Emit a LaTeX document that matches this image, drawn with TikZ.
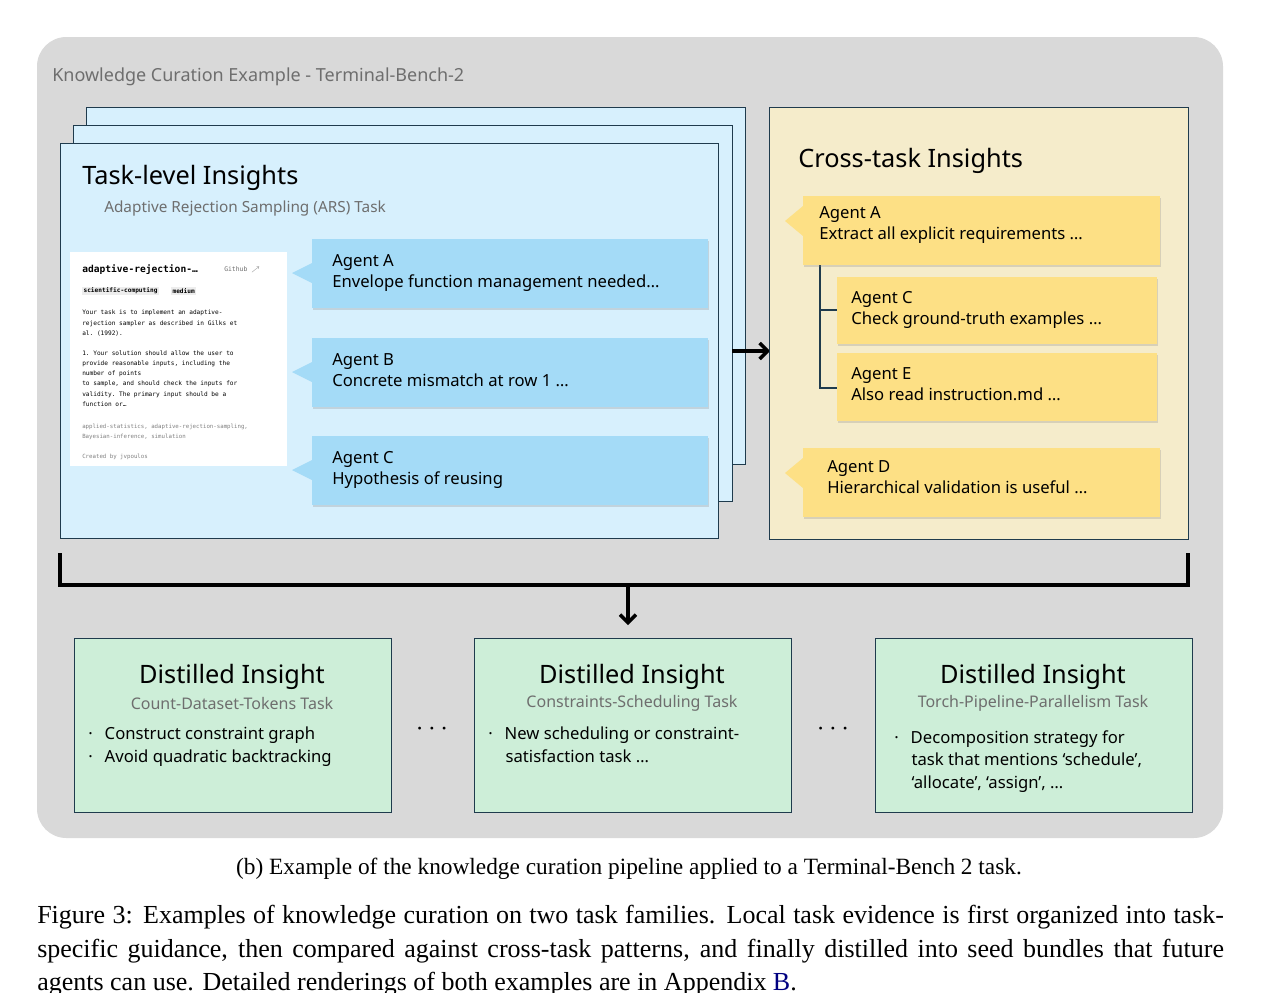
\documentclass[tikz,border=0pt]{standalone}
\usepackage{fontspec}
\setmainfont{Liberation Serif}
\setsansfont{Noto Sans}
\setmonofont{DejaVu Sans Mono}
\usetikzlibrary{arrows.meta,shadows}
\definecolor{bgg}{HTML}{D9D9D9}
\definecolor{lblue}{HTML}{D7F0FD}
\definecolor{ablue}{HTML}{A4DBF7}
\definecolor{lyel}{HTML}{F5ECCB}
\definecolor{ayel}{HTML}{FDE085}
\definecolor{lgrn}{HTML}{CDEED8}
\definecolor{edge}{HTML}{1F3B4D}
\definecolor{sub}{HTML}{6E6E6E}
\begin{document}
\begin{tikzpicture}[x=0.75pt,y=-0.75pt,
  panel/.style={draw=edge,line width=0.6pt},
  agentb/.style={fill=ablue,drop shadow={opacity=0.25,shadow xshift=1pt,shadow yshift=-1.5pt}},
  agenty/.style={fill=ayel,drop shadow={opacity=0.25,shadow xshift=1pt,shadow yshift=-1.5pt}},
  atxt/.style={anchor=north west,align=left,font=\sffamily\fontsize{12.5}{16}\selectfont,inner sep=0pt},
  dtitle/.style={font=\sffamily\bfseries\fontsize{19}{21}\selectfont,inner sep=0pt},
  dsub/.style={font=\sffamily\bfseries\fontsize{12}{14}\selectfont,text=sub,inner sep=0pt},
  bul/.style={anchor=north west,align=left,font=\sffamily\fontsize{12.5}{17}\selectfont,inner sep=0pt},
  brk/.style={line width=2.6pt},
  mono/.style={anchor=north west,align=left,inner sep=0pt,font=\ttfamily\fontsize{4.6}{7.6}\selectfont}]
\useasboundingbox (0,0) rectangle (1261,993);
% background
\fill[bgg,rounded corners=22pt] (37,37) rectangle (1223,838);
\node[anchor=west,inner sep=0pt,text=sub,font=\sffamily\fontsize{13.5}{15}\selectfont] (ttl) at (52,77) {Knowledge Curation Example - Terminal-Bench-2};
% blue stack
\draw[panel,fill=lblue] (86,107) rectangle (745,464);
\draw[panel,fill=lblue] (73,125) rectangle (732,501);
\draw[panel,fill=lblue] (60,143) rectangle (718,538);
\node (tlt) [anchor=west,inner sep=0pt,font=\sffamily\bfseries\fontsize{19}{21}\selectfont] at (82,178) {Task-level Insights};
\node (tls) [anchor=west,dsub,font=\sffamily\bfseries\fontsize{11.5}{13}\selectfont] at (104,209) {Adaptive Rejection Sampling (ARS) Task};
% card
\fill[white] (70,252) rectangle (287,466);
\node (c1) [anchor=west,inner sep=0pt,font=\ttfamily\bfseries\fontsize{7.2}{8}\selectfont] at (82,270) {adaptive-rejection-\dots};
\node (c2) [anchor=west,inner sep=0pt,text=sub,font=\ttfamily\fontsize{4.8}{6}\selectfont] at (224,270) {Github $\nearrow$};
\node (t1) [anchor=west,fill=black!7,inner sep=1pt,font=\ttfamily\bfseries\fontsize{4.6}{6}\selectfont] at (82,291) {scientific-computing};
\node (t2) [anchor=west,fill=black!7,inner sep=1pt,font=\ttfamily\bfseries\fontsize{4.6}{6}\selectfont] at (171,291) {medium};
\node (c3) [mono] at (82,310) {Your task is to implement an adaptive-\\rejection sampler as described in Gilks et\\al. (1992).\\[7.6pt]1. Your solution should allow the user to\\provide reasonable inputs, including the\\number of points\\to sample, and should check the inputs for\\validity. The primary input should be a\\function or\dots};
\node (c4) [mono,text=gray,font=\ttfamily\fontsize{4.3}{7.6}\selectfont] at (82,424) {applied-statistics, adaptive-rejection-sampling,\\Bayesian-inference, simulation};
\node (c5) [mono,text=gray,font=\ttfamily\fontsize{4.3}{7}\selectfont] at (82,454) {Created by jvpoulos};
% blue agents
\foreach \n/\y/\t in {A/239/Envelope function management needed\dots,B/338/Concrete mismatch at row 1 \dots,C/436/Hypothesis of reusing/painting \dots}{
  \fill[agentb] (312,\y) rectangle ++(396,69);
  \fill[ablue] (312,\y+24) -- (292,\y+34) -- (312,\y+44) -- cycle;
  \node (ba\n) [atxt] at (332,\y+15) {\textbf{Agent \n}\\\t};
}
% arrow to cross
\coordinate (ar1) at (732,351);
\coordinate (ar2) at (770,351);
\draw[line width=2.6pt,-{Straight Barb[length=6pt,width=12pt]}] (ar1) -- (ar2);
% cross panel
\draw[panel,fill=lyel] (769,107) rectangle (1188,539);
\node (ctt) [anchor=west,inner sep=0pt,font=\sffamily\bfseries\fontsize{19}{21}\selectfont] at (798,161) {Cross-task Insights};
\draw[line width=0.8pt,edge] (820,265) -- (820,388) -- (837,388) (820,310) -- (837,310);
\fill[agenty] (803,196) rectangle (1160,265);
\fill[ayel] (803,206) -- (785,221) -- (803,236) -- cycle;
\node (ya) [atxt] at (819,206) {\textbf{Agent A}\\Extract all explicit requirements \dots};
\fill[agenty] (837,277) rectangle (1157,344);
\node (yc) [atxt] at (851,291) {\textbf{Agent C}\\Check ground-truth examples \dots};
\fill[agenty] (837,353) rectangle (1157,421);
\node (ye) [atxt] at (851,367) {\textbf{Agent E}\\Also read instruction.md \dots};
\fill[agenty] (803,448) rectangle (1160,517);
\fill[ayel] (803,458) -- (785,473) -- (803,488) -- cycle;
\node (yd) [atxt] at (827,460) {\textbf{Agent D}\\Hierarchical validation is useful \dots};
% bracket
\coordinate (b1) at (60,553); \coordinate (b2) at (1188,553);
\coordinate (bm) at (628,585); \coordinate (bd) at (628,625);
\draw[brk] (b1) -- (60,585) -- (1188,585) -- (b2);
\draw[line width=2.6pt,-{Straight Barb[length=6pt,width=12pt]}] (bm) -- (bd);
% green boxes
\foreach \x/\s/\k in {74/Count-Dataset-Tokens Task/1,474/Constraints-Scheduling Task/2,875/Torch-Pipeline-Parallelism Task/3}{
  \draw[panel,fill=lgrn] (\x,638) rectangle ++(317,174);
  \node (dt\k) [dtitle] at (\x+158,677) {Distilled Insight};
  \node (ds\k) [dsub] at (\x+158,703) {\s};
}
\node (g1) [bul] at (88,727) {·\hspace{9pt}Construct constraint graph\\·\hspace{9pt}Avoid quadratic backtracking};
\node (g2) [bul] at (488,727) {·\hspace{9pt}New scheduling or constraint-\\\hspace{13pt}satisfaction task \dots};
\node (g3) [bul] at (894,730) {·\hspace{9pt}Decomposition strategy for\\\hspace{13pt}task that mentions ‘schedule’,\\\hspace{13pt}‘allocate’, ‘assign’, \dots};
\node (d1) [inner sep=0pt,font=\bfseries\fontsize{20}{20}\selectfont] at (432,729) {$\cdots$};
\node (d2) [inner sep=0pt,font=\bfseries\fontsize{20}{20}\selectfont] at (833,729) {$\cdots$};
% captions
\node (cap) [inner sep=0pt,font=\fontsize{17.5}{20}\selectfont] at (629,869) {(b) Example of the knowledge curation pipeline applied to a Terminal-Bench 2 task.};
\node (fig) [anchor=north west,inner sep=0pt,text width=890pt,align=justify,font=\fontsize{19.5}{25.2}\selectfont] at (37,905) {Figure 3: Examples of knowledge curation on two task families. Local task evidence is first organized into task-specific guidance, then compared against cross-task patterns, and finally distilled into seed bundles that future agents can use. Detailed renderings of both examples are in Appendix \textcolor{blue!50!black}{B}.};
\end{tikzpicture}
\end{document}
